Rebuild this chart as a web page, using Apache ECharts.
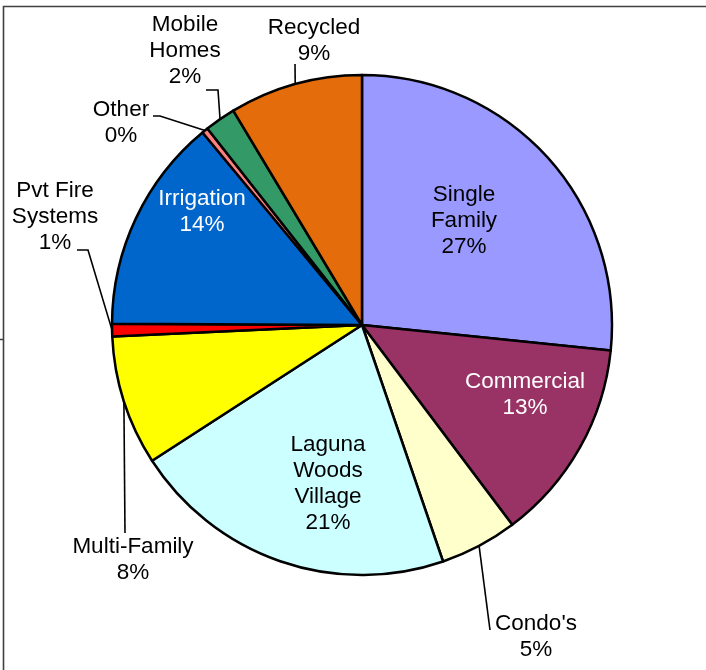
<!DOCTYPE html>
<html>
<head>
<meta charset="utf-8">
<style>
  html, body { margin: 0; padding: 0; background: #fff; }
  #chart { width: 706px; height: 670px; }
</style>
<script src="https://cdn.jsdelivr.net/npm/echarts@6/dist/echarts.min.js"></script>
</head>
<body>
<div id="chart"></div>
<script>
// Water use by customer class (share of total, %)
const categories = ['Single\nFamily', 'Commercial', "Condo's", 'Laguna\nWoods\nVillage', 'Multi-Family',
                    'Pvt Fire\nSystems', 'Irrigation', 'Other', 'Mobile\nHomes', 'Recycled'];
const shares = [26.6, 13.1, 5.0, 21.1, 8.4, 0.8, 13.9, 0.4, 2.0, 8.6];
const colors = ['#9999FF', '#993366', '#FFFFCC', '#CCFFFF', '#FFFF00',
                '#FF0000', '#0066CC', '#FF8080', '#339966', '#E46C0A'];
const whiteText = ['Commercial', 'Irrigation'];
const insideLabels = ['Single\nFamily', 'Commercial', 'Laguna\nWoods\nVillage', 'Irrigation'];

// Label anchor (centre of text block) and leader-line bends, in px
const labelPlacement = {
  'Single\nFamily':          { at: [464, 221] },
  'Commercial':              { at: [525, 395] },
  "Condo's":                 { at: [536, 637], bend: [[490, 630]] },
  'Laguna\nWoods\nVillage':  { at: [328, 484] },
  'Multi-Family':            { at: [133, 560], bend: [[125, 533]] },
  'Pvt Fire\nSystems':       { at: [55, 217],  bend: [[88, 250], [77, 250]] },
  'Irrigation':              { at: [202, 212] },
  'Other':                   { at: [121, 123], bend: [[160, 116], [153, 116]] },
  'Mobile\nHomes':           { at: [185, 51],  bend: [[218, 90], [206, 90]] },
  'Recycled':                { at: [314, 41],  bend: [[295, 64]] }
};

const total = shares.reduce((a, b) => a + b, 0);

const data = categories.map((name, i) => {
  const inside = insideLabels.includes(name);
  return {
    name: name,
    value: shares[i],
    itemStyle: { color: colors[i] },
    label: {
      position: inside ? 'inside' : 'outside',
      color: whiteText.includes(name) ? '#ffffff' : '#000000'
    },
    labelLine: { show: !inside }
  };
});

const chart = echarts.init(document.getElementById('chart'), null, { renderer: 'canvas' });

chart.setOption({
  animation: false,
  backgroundColor: '#ffffff',
  graphic: [
    {
      type: 'polyline',
      shape: { points: [[3.5, 670], [3.5, 6.5], [706, 6.5]] },
      style: { stroke: '#404040', lineWidth: 1.6, fill: null },
      silent: true
    },
    {
      type: 'line',
      shape: { x1: 0, y1: 339.5, x2: 4, y2: 339.5 },
      style: { stroke: '#404040', lineWidth: 1.5 },
      silent: true
    }
  ],
  series: [{
    type: 'pie',
    center: [362, 325],
    radius: 250,
    startAngle: 90,
    clockwise: true,
    avoidLabelOverlap: false,
    itemStyle: { borderColor: '#000000', borderWidth: 2.5 },
    label: {
      fontFamily: 'Liberation Sans, Arial, sans-serif',
      fontSize: 22.5,
      lineHeight: 26,
      width: 200,
      align: 'center',
      formatter: p => p.name + '\n' + Math.round(p.value / total * 100) + '%'
    },
    labelLine: {
      show: true,
      lineStyle: { color: '#000000', width: 1.6 }
    },
    emphasis: { disabled: true },
    labelLayout: params => {
      const name = categories[params.dataIndex];
      const place = labelPlacement[name];
      const out = { x: place.at[0], y: place.at[1], align: 'center', verticalAlign: 'middle' };
      if (place.bend && params.labelLinePoints) {
        const pts = [params.labelLinePoints[0]].concat(place.bend);
        while (pts.length < 3) pts.push(pts[pts.length - 1]);
        out.labelLinePoints = pts;
      }
      return out;
    },
    data: data
  }]
});
</script>
</body>
</html>
